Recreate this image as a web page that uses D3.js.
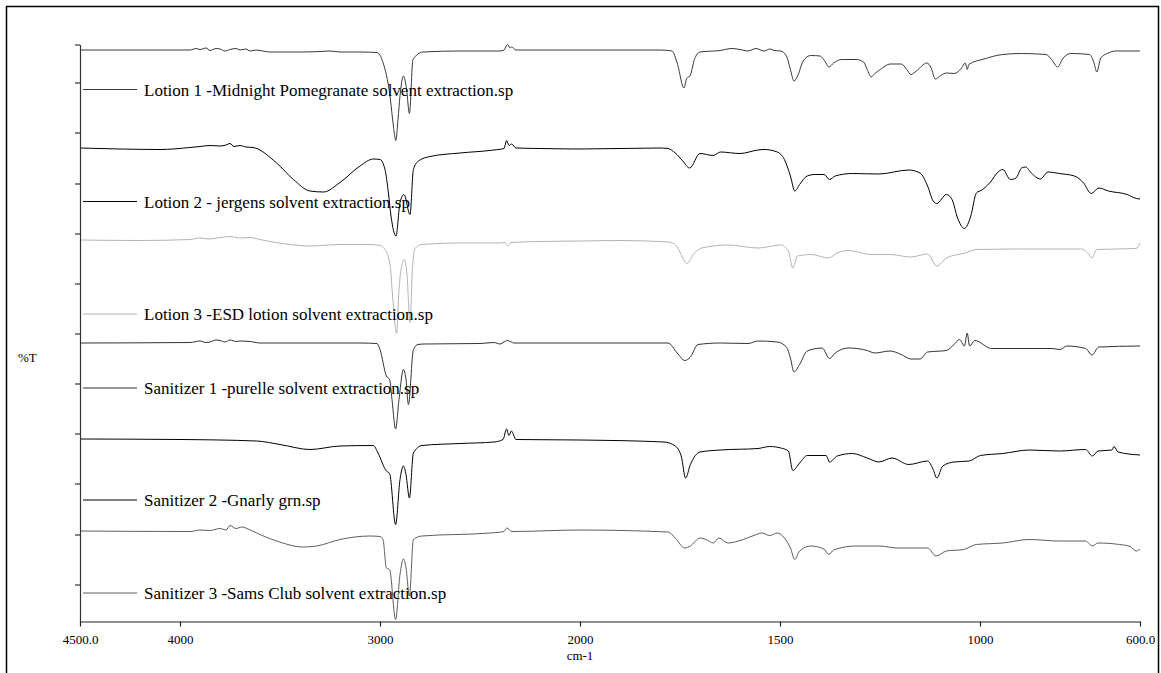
<!DOCTYPE html>
<html><head><meta charset="utf-8">
<script src="https://cdn.jsdelivr.net/npm/d3@7"></script>
<style>html,body{margin:0;padding:0;background:#fff;} svg{display:block;}</style>
</head><body>
<svg id="chart" width="1161" height="673"></svg>
<script>
const seriesNames = [
  "Lotion 1 -Midnight Pomegranate solvent extraction.sp",
  "Lotion 2 - jergens solvent extraction.sp",
  "Lotion 3 -ESD lotion solvent extraction.sp",
  "Sanitizer 1 -purelle solvent extraction.sp",
  "Sanitizer 2 -Gnarly grn.sp",
  "Sanitizer 3 -Sams Club solvent extraction.sp"
];
// [wavenumber cm-1, offset %T]
const lotion1 = [[4500,114.3],[4200,114.3],[3950,114.3],[3920,114.6],[3900,114.4],[3870,114.7],[3850,114.2],[3820,114.6],[3800,114.5],[3775,114.1],[3750,114.4],[3720,114.6],[3700,114.3],[3670,114.5],[3650,114.1],[3620,114.3],[3600,114.2],[3550,113.9],[3400,113.9],[3300,114.0],[3250,114.1],[3200,113.9],[3100,113.9],[3015,113.8],[2985,111.8],[2950,105.1],[2933,99.1],[2921,96.2],[2910,100.4],[2900,105.1],[2883,109.1],[2867,106.4],[2853,101.6],[2835,112.4],[2785,113.9],[2600,114.1],[2400,114.1],[2380,114.3],[2362,115.4],[2350,114.7],[2342,114.9],[2320,114.3],[2200,114.3],[2000,114.3],[1800,114.3],[1770,114.1],[1757,111.7],[1740,106.7],[1733,108.7],[1725,109.1],[1714,112.4],[1700,113.9],[1650,114.2],[1620,114.6],[1600,114.4],[1580,114.1],[1560,114.6],[1540,114.1],[1525,114.5],[1515,114.2],[1498,114.1],[1484,113.1],[1474,110.4],[1465,108.1],[1456,109.1],[1442,112.1],[1423,113.2],[1400,113.1],[1385,111.7],[1378,110.9],[1366,111.7],[1347,112.4],[1310,112.4],[1291,111.9],[1282,110.4],[1272,108.9],[1263,109.6],[1249,110.4],[1225,111.5],[1197,111.5],[1183,110.4],[1173,109.4],[1159,110.1],[1133,111.7],[1122,110.7],[1112,108.5],[1098,109.2],[1084,109.7],[1065,109.6],[1046,110.7],[1037,111.7],[1032,110.4],[1028,111.4],[990,112.5],[943,113.4],[896,113.6],[835,113.4],[821,112.4],[806,110.9],[792,112.7],[773,113.6],[726,113.4],[715,111.7],[708,109.9],[698,112.7],[679,113.7],[661,114.1],[600,114.1]];
const lotion2 = [[4500,94.7],[4300,94.5],[4100,94.4],[3950,94.8],[3900,95.0],[3850,95.2],[3800,95.1],[3770,95.3],[3750,95.6],[3730,95.0],[3700,95.2],[3670,94.9],[3635,94.8],[3517,91.7],[3433,88.4],[3350,86.1],[3283,85.9],[3200,87.8],[3100,91.1],[3033,92.5],[3000,92.4],[2975,90.4],[2958,85.7],[2945,81.1],[2920,77.1],[2900,83.8],[2880,85.4],[2850,81.4],[2833,90.4],[2808,92.1],[2750,93.0],[2600,93.7],[2430,94.3],[2380,94.6],[2367,96.2],[2355,95.2],[2343,95.5],[2320,94.7],[2200,94.6],[2000,94.5],[1800,94.7],[1780,94.6],[1762,93.7],[1743,92.1],[1726,90.7],[1700,93.6],[1667,93.2],[1649,93.9],[1600,93.6],[1555,94.3],[1540,94.4],[1507,93.9],[1489,92.4],[1474,89.1],[1463,86.1],[1451,87.4],[1432,89.1],[1413,89.4],[1390,89.4],[1376,88.4],[1362,89.1],[1319,89.6],[1253,89.5],[1178,90.3],[1150,89.7],[1131,87.1],[1117,84.1],[1108,83.6],[1084,85.4],[1070,84.4],[1056,80.7],[1039,78.6],[1023,81.1],[1009,85.7],[995,86.3],[976,87.7],[952,90.1],[943,90.4],[924,88.4],[910,88.7],[896,90.7],[886,90.9],[872,89.7],[849,88.5],[830,89.9],[802,89.6],[764,89.1],[741,87.7],[722,85.6],[703,86.7],[679,86.1],[632,85.4],[609,84.6],[600,84.5]];
const lotion3 = [[4500,76.3],[4200,76.2],[3950,76.4],[3900,76.7],[3850,76.5],[3800,76.8],[3750,77.0],[3700,76.7],[3650,76.8],[3600,76.4],[3550,76.0],[3450,75.4],[3350,75.1],[3200,75.4],[3050,75.4],[3000,75.2],[2975,74.4],[2950,71.4],[2935,64.0],[2917,57.6],[2905,66.4],[2890,71.4],[2878,72.4],[2865,69.4],[2850,59.8],[2838,70.4],[2825,74.6],[2790,75.4],[2600,75.7],[2400,75.7],[2375,75.8],[2362,75.1],[2345,75.8],[2200,76.0],[2000,76.1],[1900,76.2],[1780,75.9],[1762,75.4],[1747,73.4],[1733,71.6],[1714,73.7],[1696,74.7],[1630,75.3],[1555,74.7],[1498,75.3],[1479,74.1],[1468,70.7],[1456,73.1],[1423,73.4],[1378,72.7],[1357,73.7],[1329,74.2],[1272,73.4],[1225,73.4],[1173,72.9],[1131,73.5],[1108,71.1],[1084,72.7],[1037,73.7],[1009,74.4],[896,74.5],[745,74.5],[731,73.7],[720,72.7],[708,74.4],[610,74.6],[600,75.7]];
const sanitizer1 = [[4500,55.7],[3950,55.8],[3900,56.1],[3870,55.8],[3850,55.9],[3820,56.3],[3800,56.2],[3775,55.9],[3750,56.3],[3720,56.0],[3700,56.1],[3650,56.0],[3600,55.7],[3400,55.7],[3100,55.7],[3015,55.6],[3000,54.4],[2968,49.1],[2952,48.4],[2940,44.4],[2922,38.5],[2905,44.4],[2883,50.4],[2870,48.4],[2858,43.4],[2833,54.4],[2810,55.4],[2780,55.5],[2500,55.6],[2430,55.8],[2400,55.5],[2380,55.9],[2362,56.2],[2330,55.7],[2000,55.7],[1780,55.7],[1757,53.7],[1738,52.2],[1724,52.9],[1705,55.4],[1649,55.7],[1580,55.6],[1555,56.1],[1507,55.9],[1484,54.9],[1474,52.7],[1465,49.9],[1451,51.4],[1432,54.1],[1395,54.7],[1376,52.6],[1362,53.7],[1329,54.7],[1282,54.2],[1263,53.7],[1225,54.1],[1197,53.4],[1173,52.5],[1150,52.5],[1131,53.9],[1084,54.2],[1065,55.4],[1051,56.4],[1039,55.1],[1032,57.7],[1026,55.1],[1013,56.2],[971,54.6],[820,54.6],[800,54.4],[783,55.1],[736,54.6],[720,53.3],[703,54.9],[600,55.1]];
const sanitizer2 = [[4500,36.5],[4000,36.4],[3617,36.1],[3500,35.4],[3350,34.4],[3200,35.1],[3033,35.2],[3010,33.7],[2968,30.1],[2952,29.6],[2922,19.4],[2900,28.4],[2883,31.1],[2870,29.4],[2853,24.7],[2833,33.7],[2790,35.2],[2600,35.6],[2430,35.9],[2385,36.4],[2367,38.5],[2355,37.2],[2343,38.1],[2320,36.4],[2000,36.3],[1790,35.9],[1762,35.1],[1747,33.1],[1736,28.7],[1724,31.4],[1700,33.9],[1649,34.3],[1555,34.6],[1526,35.0],[1498,34.7],[1479,34.1],[1468,30.2],[1451,31.7],[1432,33.2],[1385,33.2],[1376,31.9],[1357,33.1],[1319,33.6],[1282,32.7],[1253,31.9],[1220,32.7],[1178,31.4],[1131,32.1],[1117,30.4],[1108,28.7],[1093,31.1],[1065,31.9],[1027,32.1],[999,33.2],[943,33.6],[877,34.3],[802,34.1],[736,34.4],[719,33.1],[705,34.1],[670,34.3],[665,35.0],[655,33.9],[600,33.3]];
const sanitizer3 = [[4500,18.1],[3950,18.0],[3900,18.3],[3850,18.2],[3800,18.6],[3770,18.3],[3750,19.2],[3720,18.6],[3690,18.9],[3660,18.5],[3617,17.7],[3517,16.1],[3383,14.9],[3317,15.1],[3200,16.4],[3050,17.1],[3000,17.0],[2985,16.4],[2968,10.7],[2952,10.4],[2922,0.4],[2900,9.4],[2883,12.5],[2870,10.8],[2853,5.1],[2833,16.4],[2790,17.1],[2450,17.7],[2380,18.0],[2367,18.7],[2340,18.0],[2000,18.3],[1780,17.9],[1762,16.7],[1738,14.7],[1724,15.1],[1700,16.7],[1685,16.4],[1667,15.7],[1653,16.7],[1630,15.7],[1592,16.4],[1559,17.4],[1545,17.7],[1526,17.2],[1507,17.7],[1489,16.7],[1474,14.7],[1463,12.4],[1451,14.1],[1423,15.1],[1390,14.5],[1378,13.4],[1366,14.3],[1310,15.1],[1253,15.1],[1206,14.7],[1131,14.7],[1110,13.1],[1084,14.1],[1041,14.4],[1009,15.4],[943,15.7],[877,16.4],[802,16.1],[736,16.1],[719,15.1],[705,15.7],[651,15.4],[625,15.0],[609,14.1],[600,14.5]];

const xTickValues = [4500, 4000, 3000, 2000, 1500, 1000, 600];
const xTickLabels = ["4500.0", "4000", "3000", "2000", "1500", "1000", "600.0"];
const yTickValues = [7.4, 17.4, 27.6, 37.6, 47.6, 57.6, 67.6, 77.6, 87.6, 97.8, 107.8, 115.4];
const xAxisTitle = "cm-1";
const yAxisTitle = "%T";

const seriesData = [lotion1, lotion2, lotion3, sanitizer1, sanitizer2, sanitizer3];
const seriesColors = ["#3a3a3a", "#000000", "#b4b4b4", "#333333", "#000000", "#5e5e5e"];
const legendY = [89.5, 201.5, 314, 388, 500, 593];

const FONT = "'Liberation Serif','Times New Roman',serif";
const svg = d3.select("#chart");

svg.append("rect").attr("x", 6.5).attr("y", 6.5).attr("width", 1152).attr("height", 700)
  .attr("fill", "none").attr("stroke", "#000").attr("stroke-width", 1.5);

const x = d3.scaleLinear().domain([4500, 2000, 600]).range([80, 580, 1140]);
const y = d3.scaleLinear().domain([0, 115.4]).range([621.5, 44.5]);

const line = d3.line().x(d => x(d[0])).y(d => y(d[1])).curve(d3.curveMonotoneX);

seriesData.forEach((s, i) => {
  svg.append("path").datum(s).attr("d", line)
    .attr("fill", "none").attr("stroke", seriesColors[i]).attr("stroke-width", 1)
    .attr("stroke-linejoin", "round");
});

// axes
const xAxis = d3.axisBottom(x).tickValues(xTickValues)
  .tickFormat((d, i) => xTickLabels[i]).tickSize(5).tickSizeOuter(0).tickPadding(8);
const gx = svg.append("g").attr("transform", `translate(0,${y(0)})`).call(xAxis);
gx.selectAll("path,line").attr("stroke", "#222").attr("stroke-width", 1.2);
gx.selectAll("text").attr("font-family", FONT).attr("font-size", 13).attr("fill", "#000");

const yAxis = d3.axisLeft(y).tickValues(yTickValues).tickFormat("").tickSize(5).tickSizeOuter(0);
const gy = svg.append("g").attr("transform", `translate(${x(4500)},0)`).call(yAxis);
gy.selectAll("path,line").attr("stroke", "#333").attr("stroke-width", 1.2);

svg.append("text").attr("x", 580).attr("y", 660).attr("text-anchor", "middle")
  .attr("font-family", FONT).attr("font-size", 13).text(xAxisTitle);
svg.append("text").attr("x", 18).attr("y", 362)
  .attr("font-family", FONT).attr("font-size", 13).text(yAxisTitle);

// legend labels
seriesNames.forEach((n, i) => {
  svg.append("line").attr("x1", 83).attr("x2", 137).attr("y1", legendY[i]).attr("y2", legendY[i])
    .attr("stroke", seriesColors[i]).attr("stroke-width", 1);
  svg.append("text").attr("x", 144).attr("y", legendY[i] + 6)
    .attr("font-family", FONT).attr("font-size", 17).attr("fill", "#000").text(n);
});
</script>
</body></html>
